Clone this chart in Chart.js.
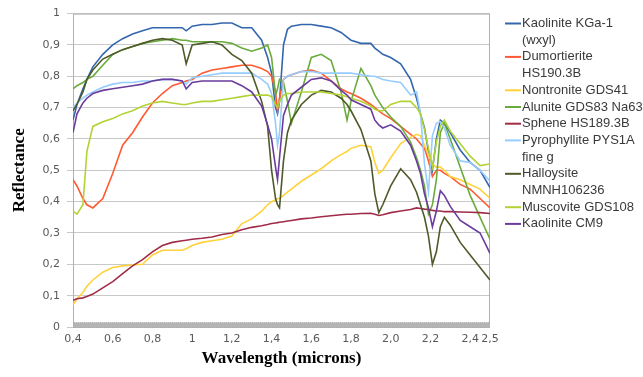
<!DOCTYPE html>
<html>
<head>
<meta charset="utf-8">
<script src="https://cdn.jsdelivr.net/npm/chart.js@4.4.1/dist/chart.umd.min.js"></script>
<style>
  html, body { margin: 0; padding: 0; background: #fff; }
  canvas { display: block; }
</style>
</head>
<body>
<canvas id="chart1" width="643" height="377"></canvas>
<script>
/* Spectra (reflectance vs wavelength in microns) */
const wavelengths = [
    0.40, 0.42, 0.45, 0.47, 0.50, 0.55, 0.60, 0.65, 0.70, 0.75,
    0.80, 0.85, 0.90, 0.95, 0.97, 1.00, 1.05, 1.10, 1.15, 1.20,
    1.25, 1.30, 1.35, 1.38, 1.40, 1.42, 1.43, 1.44, 1.46, 1.48,
    1.50, 1.55, 1.60, 1.65, 1.70, 1.75, 1.78, 1.80, 1.85, 1.90,
    1.92, 1.94, 1.96, 2.00, 2.05, 2.10, 2.13, 2.15, 2.17, 2.19,
    2.21, 2.23, 2.25, 2.27, 2.30, 2.35, 2.40, 2.45, 2.50
]

const kaoliniteKGa1 = [
    0.66, 0.71, 0.76, 0.79, 0.83, 0.87, 0.90, 0.92, 0.935, 0.945,
    0.955, 0.955, 0.955, 0.955, 0.945, 0.96, 0.965, 0.965, 0.97, 0.97,
    0.955, 0.955, 0.915, 0.86, 0.81, 0.70, 0.68, 0.72, 0.90, 0.95,
    0.96, 0.965, 0.965, 0.96, 0.955, 0.94, 0.925, 0.915, 0.905, 0.905,
    0.89, 0.88, 0.87, 0.86, 0.84, 0.79, 0.73, 0.68, 0.635, 0.56,
    0.50, 0.60, 0.66, 0.65, 0.62, 0.565, 0.525, 0.50, 0.445
]
const dumortierite = [
    0.47, 0.45, 0.41, 0.39, 0.38, 0.41, 0.49, 0.58, 0.62, 0.67,
    0.715, 0.745, 0.77, 0.78, 0.785, 0.79, 0.81, 0.82, 0.825, 0.83,
    0.835, 0.835, 0.825, 0.815, 0.80, 0.75, 0.69, 0.73, 0.79, 0.80,
    0.805, 0.815, 0.82, 0.81, 0.785, 0.76, 0.75, 0.745, 0.73, 0.71,
    0.70, 0.69, 0.68, 0.665, 0.64, 0.615, 0.60, 0.585, 0.57, 0.53,
    0.48, 0.50, 0.50, 0.49, 0.48, 0.455, 0.44, 0.41, 0.38
]
const nontronite = [
    0.07, 0.09, 0.11, 0.13, 0.15, 0.175, 0.19, 0.195, 0.198, 0.20,
    0.23, 0.245, 0.245, 0.245, 0.25, 0.26, 0.27, 0.275, 0.28, 0.29,
    0.33, 0.345, 0.37, 0.39, 0.40, 0.405, 0.41, 0.41, 0.42, 0.43,
    0.44, 0.465, 0.485, 0.505, 0.53, 0.55, 0.56, 0.57, 0.58, 0.575,
    0.525, 0.49, 0.50, 0.54, 0.585, 0.605, 0.615, 0.61, 0.58, 0.55,
    0.52, 0.51, 0.51, 0.50, 0.48, 0.47, 0.455, 0.44, 0.41
]
const alunite = [
    0.76, 0.77, 0.78, 0.79, 0.80, 0.835, 0.87, 0.885, 0.895, 0.905,
    0.91, 0.915, 0.92, 0.915, 0.915, 0.91, 0.91, 0.91, 0.91, 0.905,
    0.89, 0.88, 0.89, 0.90, 0.86, 0.74, 0.76, 0.79, 0.78, 0.72,
    0.65, 0.75, 0.86, 0.87, 0.85, 0.75, 0.66, 0.72, 0.825, 0.77,
    0.74, 0.72, 0.70, 0.67, 0.64, 0.59, 0.54, 0.50, 0.45, 0.36,
    0.39, 0.47, 0.62, 0.65, 0.60, 0.51, 0.42, 0.35, 0.28
]
const sphene = [
    0.085, 0.09, 0.093, 0.097, 0.105, 0.125, 0.145, 0.17, 0.195, 0.215,
    0.24, 0.26, 0.27, 0.275, 0.277, 0.28, 0.283, 0.287, 0.295, 0.30,
    0.31, 0.318, 0.323, 0.327, 0.33, 0.332, 0.333, 0.334, 0.336, 0.338,
    0.34, 0.345, 0.348, 0.352, 0.355, 0.358, 0.36, 0.36, 0.362, 0.363,
    0.36, 0.356, 0.358, 0.365, 0.37, 0.375, 0.38, 0.378, 0.376, 0.375,
    0.372, 0.37, 0.37, 0.368, 0.368, 0.367, 0.366, 0.365, 0.362
]
const pyrophyllite = [
    0.70, 0.715, 0.73, 0.74, 0.75, 0.765, 0.775, 0.78, 0.78, 0.785,
    0.785, 0.79, 0.79, 0.785, 0.775, 0.795, 0.80, 0.805, 0.81, 0.81,
    0.81, 0.81, 0.79, 0.775, 0.745, 0.65, 0.58, 0.62, 0.79, 0.80,
    0.805, 0.815, 0.815, 0.81, 0.81, 0.81, 0.81, 0.81, 0.805, 0.80,
    0.80, 0.795, 0.79, 0.785, 0.78, 0.74, 0.75, 0.68, 0.52, 0.43,
    0.61, 0.65, 0.655, 0.635, 0.58, 0.53, 0.525, 0.50, 0.465
]
const halloysite = [
    0.69, 0.71, 0.75, 0.79, 0.82, 0.855, 0.87, 0.885, 0.895, 0.905,
    0.915, 0.92, 0.915, 0.90, 0.84, 0.90, 0.905, 0.91, 0.90, 0.87,
    0.85, 0.81, 0.72, 0.64, 0.50, 0.41, 0.39, 0.38, 0.53, 0.62,
    0.66, 0.71, 0.74, 0.755, 0.75, 0.73, 0.71, 0.69, 0.63, 0.53,
    0.425, 0.365, 0.39, 0.45, 0.505, 0.47, 0.43, 0.39, 0.35, 0.29,
    0.20, 0.24, 0.32, 0.35, 0.325, 0.27, 0.23, 0.19, 0.15
]
const muscovite = [
    0.37, 0.36, 0.39, 0.56, 0.64, 0.655, 0.665, 0.68, 0.69, 0.705,
    0.715, 0.72, 0.715, 0.71, 0.71, 0.715, 0.72, 0.72, 0.725, 0.73,
    0.735, 0.74, 0.74, 0.74, 0.735, 0.71, 0.70, 0.72, 0.74, 0.745,
    0.745, 0.75, 0.75, 0.75, 0.745, 0.74, 0.735, 0.73, 0.72, 0.705,
    0.695, 0.69, 0.69, 0.71, 0.72, 0.72, 0.70, 0.68, 0.63, 0.57,
    0.51, 0.59, 0.64, 0.66, 0.625, 0.585, 0.545, 0.515, 0.52
]
const kaoliniteCM9 = [
    0.62, 0.68, 0.715, 0.73, 0.745, 0.755, 0.76, 0.765, 0.77, 0.775,
    0.785, 0.79, 0.79, 0.785, 0.76, 0.78, 0.785, 0.785, 0.785, 0.785,
    0.77, 0.75, 0.705, 0.645, 0.60, 0.51, 0.47, 0.54, 0.675, 0.71,
    0.74, 0.765, 0.79, 0.795, 0.785, 0.755, 0.74, 0.725, 0.71, 0.695,
    0.66, 0.645, 0.635, 0.645, 0.625, 0.58, 0.53, 0.49, 0.425, 0.38,
    0.32, 0.37, 0.435, 0.42, 0.385, 0.34, 0.32, 0.30, 0.235
]

const seriesNames = [
    'Kaolinite KGa-1\n(wxyl)',
    'Dumortierite\nHS190.3B',
    'Nontronite GDS41',
    'Alunite GDS83 Na63',
    'Sphene HS189.3B',
    'Pyrophyllite PYS1A\nfine g',
    'Halloysite\nNMNH106236',
    'Muscovite GDS108',
    'Kaolinite CM9'
]
const seriesValues = [kaoliniteKGa1, dumortierite, nontronite, alunite, sphene,
    pyrophyllite, halloysite, muscovite, kaoliniteCM9]

const xTicks = [0.4, 0.6, 0.8, 1.0, 1.2, 1.4, 1.6, 1.8, 2.0, 2.2, 2.4, 2.5]

const colors = ['#3466ae', '#ff5a32', '#ffd23c', '#6aab3c', '#a02c48',
    '#96ccff', '#4e5a28', '#b2d335', '#6a3c9c']

const comma = v => {
    const r = Math.round(v * 10) / 10;
    return (r === 0 || r === 1) ? String(r) : r.toFixed(1).replace('.', ',');
}

// gray frame round the plot + the dotted band along the bottom
const frame = {
    id: 'frame',
    beforeDatasetsDraw(chart) {
        const {ctx, chartArea: a} = chart;
        ctx.save();
        ctx.fillStyle = '#b4b4b4';
        ctx.fillRect(a.left, a.bottom - 5, a.right - a.left, 5);
        ctx.strokeStyle = '#d6d6d6';
        ctx.setLineDash([1, 1]);
        ctx.beginPath();
        ctx.moveTo(a.left, a.bottom - 4.5);
        ctx.lineTo(a.right, a.bottom - 4.5);
        ctx.stroke();
        ctx.setLineDash([]);
        ctx.strokeStyle = '#b0b0b0';
        ctx.lineWidth = 1;
        ctx.strokeRect(a.left + 0.5, a.top + 0.5, a.right - a.left - 1, a.bottom - a.top);
        ctx.restore();
    }
};

// legend on the right, names wrap like the original
const sideLegend = {
    id: 'sideLegend',
    afterDraw(chart) {
        const ctx = chart.ctx;
        const x = chart.chartArea.right + 15;
        let row = 0;
        ctx.save();
        ctx.font = '13px "Liberation Sans", Arial, sans-serif';
        ctx.textBaseline = 'middle';
        chart.data.datasets.forEach(ds => {
            const y = 23.5 + row * 16.7;
            ctx.strokeStyle = ds.borderColor;
            ctx.lineWidth = 2;
            ctx.beginPath();
            ctx.moveTo(x, y);
            ctx.lineTo(x + 16, y);
            ctx.stroke();
            ds.label.split('\n').forEach(t => {
                ctx.fillStyle = '#3a3a3a';
                ctx.fillText(t, x + 17, 23.5 + row * 16.7);
                row++;
            });
        });
        ctx.restore();
    }
};

const ctx = document.getElementById('chart1');

const data = {
    datasets: seriesNames.map((name, i) => ({
        label: name,
        data: wavelengths.map((w, j) => ({x: w, y: seriesValues[i][j]})),
        borderColor: colors[i],
        backgroundColor: colors[i],
        borderWidth: 1.6,
        pointRadius: 0,
        fill: false,
        order: seriesNames.length - i
    }))
}

const config = {
    type: 'line',
    data,
    options: {
        responsive: false,
        animation: false,
        devicePixelRatio: 1,
        layout: { padding: { left: 9, right: 153, top: 12, bottom: 8 } },
        plugins: {
            legend: { display: false },
            tooltip: { enabled: false }
        },
        scales: {
            x: {
                type: 'linear',
                min: 0.4,
                max: 2.5,
                afterBuildTicks: s => { s.ticks = xTicks.map(v => ({value: v})); },
                afterFit: s => { s.height = 42; },
                grid: { display: false, drawTicks: false },
                border: { display: false },
                ticks: {
                    autoSkip: false,
                    maxRotation: 0,
                    padding: 6,
                    color: '#595959',
                    font: { family: 'DejaVu Sans', size: 11 },
                    callback: v => comma(v)
                },
                title: {
                    display: true,
                    text: 'Wavelength (microns)',
                    color: '#000',
                    padding: 0,
                    font: { family: '"Liberation Serif", serif', size: 17, weight: 'bold' }
                }
            },
            y: {
                min: 0,
                max: 1,
                afterFit: s => { s.width = 64; },
                grid: { color: '#c8c8c8', tickLength: 6 },
                border: { display: false },
                ticks: {
                    stepSize: 0.1,
                    padding: 7,
                    color: '#595959',
                    font: { family: 'DejaVu Sans', size: 11 },
                    callback: v => comma(v)
                },
                title: {
                    display: true,
                    text: 'Reflectance',
                    color: '#000',
                    padding: 0,
                    font: { family: '"Liberation Serif", serif', size: 17, weight: 'bold' }
                }
            }
        }
    },
    plugins: [frame, sideLegend]
};

const chart1 = new Chart(ctx, config);
</script>
</body>
</html>
